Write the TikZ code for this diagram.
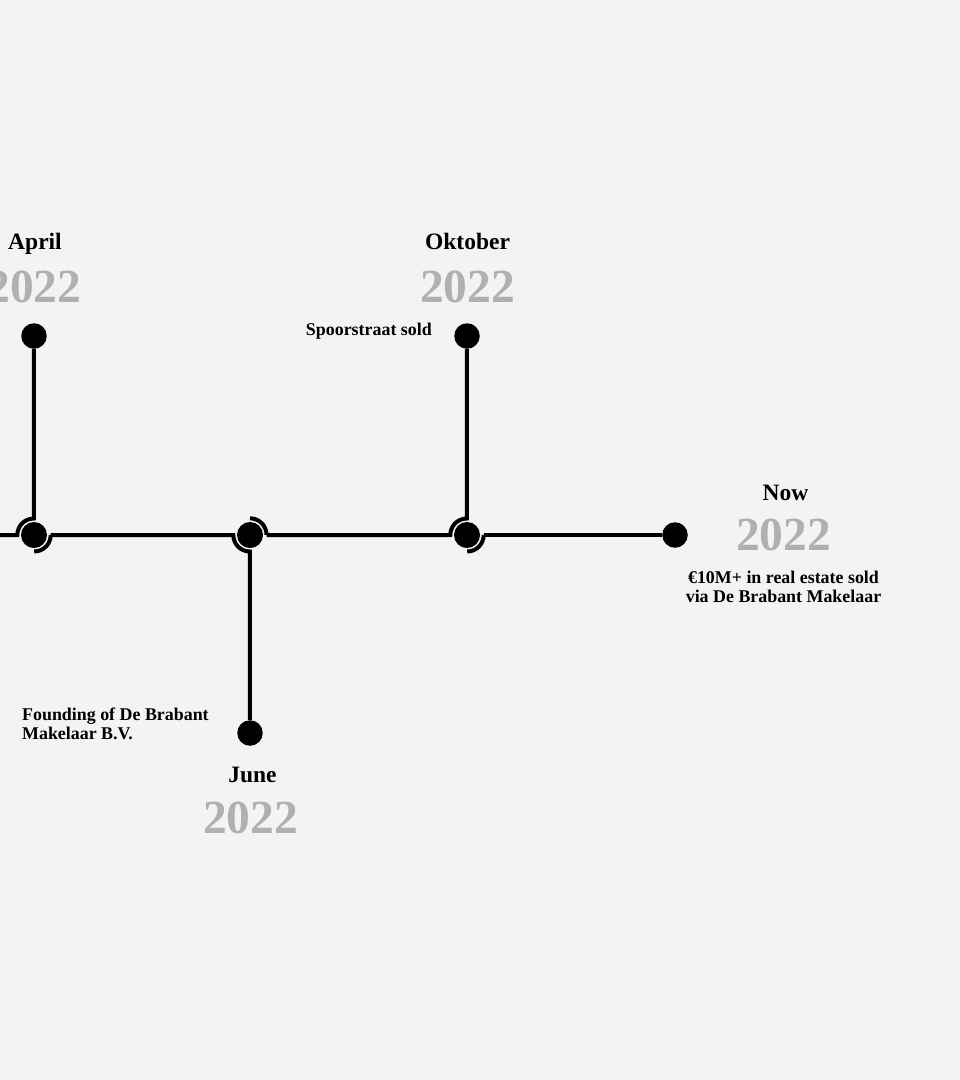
\documentclass[tikz,border=0pt]{standalone}
\usepackage{fontspec}
\setmainfont{Liberation Serif}
\definecolor{bg}{HTML}{F3F3F3}
\definecolor{yr}{HTML}{B0B0B0}
\begin{document}
\begin{tikzpicture}[x=1pt,y=1pt,
  month/.style={font=\bfseries\fontsize{23.5}{25}\selectfont, anchor=base, inner sep=0pt},
  year/.style={font=\bfseries\fontsize{47.5}{50}\selectfont, text=yr, anchor=base, inner sep=0pt},
  desc/.style={font=\bfseries\fontsize{17.9}{19}\selectfont, inner sep=0pt},
  enddot/.style={circle, fill=black, minimum size=25.5pt, inner sep=0pt},
  junction/.style={circle, minimum size=33pt, inner sep=0pt,
    path picture={\fill[black] (path picture bounding box.center) circle[radius=13pt];}},
  conn/.style={line width=4pt, draw=black},
]
\fill[bg] (0,0) rectangle (960,-1080);
\useasboundingbox (0,0) rectangle (960,-1080);

% nodes
\coordinate (start) at (0,-535);
\node[junction] (j1) at (34,-535) {};
\node[junction] (j2) at (250,-535) {};
\node[junction] (j3) at (467,-535) {};
\node[enddot] (e1) at (34,-336) {};
\node[enddot] (e2) at (250,-733) {};
\node[enddot] (e3) at (467,-336) {};
\node[enddot] (e4) at (675,-535) {};

% connectors
\draw[conn] (start) -- (j1.west) arc[start angle=180, end angle=90, radius=16.5pt] -- (e1);
\draw[conn] (j1.east) arc[start angle=0, end angle=-90, radius=16.5pt];
\draw[conn] (j1.east) -- (j2.west) arc[start angle=180, end angle=270, radius=16.5pt] -- (e2);
\draw[conn] (j2.north) arc[start angle=90, end angle=0, radius=16.5pt];
\draw[conn] (j2.east) -- (j3.west) arc[start angle=180, end angle=90, radius=16.5pt] -- (e3);
\draw[conn] (j3.east) arc[start angle=0, end angle=-90, radius=16.5pt];
\draw[conn] (j3.east) -- (e4);

% labels
\node[month] (m1) at (35,-249) {April};
\node[year] (y1) at (34,-302) {2022};
\node[month] (m3) at (467.5,-249) {Oktober};
\node[year] (y3) at (467.5,-302) {2022};
\node[desc, anchor=base east] (d3) at (432,-335) {Spoorstraat sold};
\node[month] (m4) at (785.5,-500) {Now};
\node[year] (y4) at (783.5,-550) {2022};
\node[desc, align=center, anchor=north] (d4) at (783.5,-570.5) {€10M+ in real estate sold\\via De Brabant Makelaar};
\node[desc, align=left, anchor=north west] (d2) at (22,-708) {Founding of De Brabant\\Makelaar B.V.};
\node[month] (m2) at (252.5,-782) {June};
\node[year] (y2) at (250.5,-833) {2022};
\end{tikzpicture}
\end{document}
